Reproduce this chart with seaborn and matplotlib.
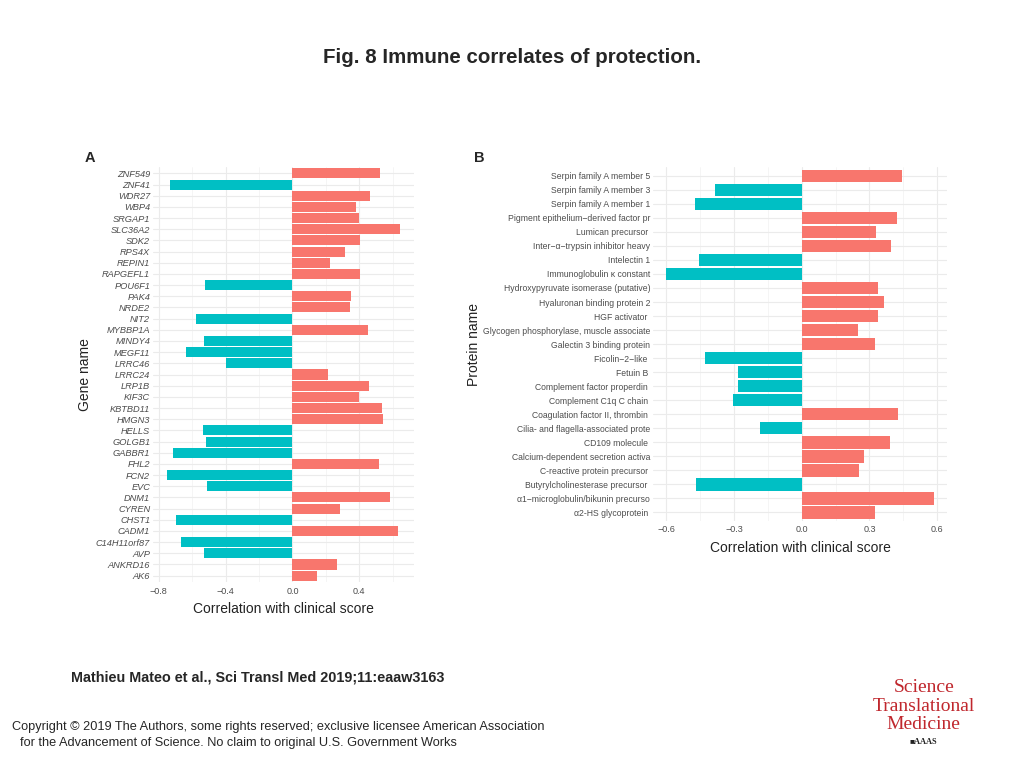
import matplotlib
matplotlib.use("Agg")
import matplotlib.pyplot as plt
import seaborn as sns
import numpy as np
import pandas as pd

# ---------------- data ----------------
genes = ["ZNF549", "ZNF41", "WDR27", "WBP4", "SRGAP1", "SLC36A2", "SDK2", "RPS4X",
         "REPIN1", "RAPGEFL1", "POU6F1", "PAK4", "NRDE2", "NIT2", "MYBBP1A", "MINDY4",
         "MEGF11", "LRRC46", "LRRC24", "LRP1B", "KIF3C", "KBTBD11", "HMGN3", "HELLS",
         "GOLGB1", "GABBR1", "FHL2", "FCN2", "EVC", "DNM1", "CYREN", "CHST1", "CADM1",
         "C14H11orf87", "AVP", "ANKRD16", "AK6"]
gene_corr = [0.525, -0.735, 0.463, 0.380, 0.396, 0.647, 0.405, 0.316,
             0.222, 0.402, -0.523, 0.352, 0.347, -0.577, 0.452, -0.527,
             -0.640, -0.400, 0.213, 0.456, 0.400, 0.535, 0.543, -0.538,
             -0.517, -0.713, 0.519, -0.752, -0.511, 0.587, 0.286, -0.700, 0.630,
             -0.666, -0.530, 0.265, 0.145]

proteins = ["Serpin family A member 5", "Serpin family A member 3", "Serpin family A member 1",
            "Pigment epithelium\u2212derived factor pr", "Lumican precursor ",
            "Inter\u2212\u03b1\u2212trypsin inhibitor heavy", "Intelectin 1",
            "Immunoglobulin \u03ba constant", "Hydroxypyruvate isomerase (putative)",
            "Hyaluronan binding protein 2", "HGF activator ",
            "Glycogen phosphorylase, muscle associate", "Galectin 3 binding protein",
            "Ficolin\u22122\u2212like ", "Fetuin B ", "Complement factor properdin ",
            "Complement C1q C chain ", "Coagulation factor II, thrombin ",
            "Cilia- and flagella-associated prote", "CD109 molecule ",
            "Calcium-dependent secretion activa", "C-reactive protein precursor ",
            "Butyrylcholinesterase precursor ", "\u03b11\u2212microglobulin/bikunin precurso",
            "\u03b12-HS glycoprotein "]
protein_corr = [0.443, -0.383, -0.473, 0.421, 0.329,
                0.396, -0.456, -0.600, 0.338,
                0.365, 0.340, 0.250, 0.325,
                -0.427, -0.281, -0.284, -0.304, 0.428,
                -0.186, 0.393, 0.276, 0.256, -0.470, 0.585, 0.325]

gene_ticks = [-0.8, -0.4, 0.0, 0.4]
protein_ticks = [-0.6, -0.3, 0.0, 0.3, 0.6]

POS = "#F8766D"
NEG = "#00BFC4"

sns.set_theme(style="white")
plt.rcParams["font.family"] = ["Liberation Sans", "DejaVu Sans"]

fig = plt.figure(figsize=(10.24, 7.68), dpi=100)
fig.patch.set_facecolor("white")

def panel(ax, names, vals, ticks, xlim, ylabel, italic, label_size):
    df = pd.DataFrame({"name": names, "corr": vals})
    df["sign"] = np.where(df["corr"] >= 0, "pos", "neg")
    sns.barplot(data=df, y="name", x="corr", hue="sign", order=names,
                palette={"pos": POS, "neg": NEG}, dodge=False, width=0.9,
                legend=False, ax=ax, zorder=3, linewidth=0, saturation=1)
    n = len(names)
    ax.set_xlim(*xlim)
    ax.set_ylim(n - 0.4, -0.6)
    ax.set_xticks(ticks)
    ax.set_xticklabels([("\u22120.%s" % str(abs(t)).split(".")[1]) if t < 0 else f"{t:.1f}"
                        for t in ticks])
    minor = [(ticks[i] + ticks[i + 1]) / 2 for i in range(len(ticks) - 1)]
    minor = [ticks[0] - (ticks[1] - ticks[0]) / 2] + minor + [ticks[-1] + (ticks[1] - ticks[0]) / 2]
    minor = [m for m in minor if xlim[0] <= m <= xlim[1]]
    ax.set_xticks(minor, minor=True)
    ax.grid(True, which="major", axis="both", color="#EBEBEB", linewidth=0.8, zorder=0)
    ax.grid(True, which="minor", axis="x", color="#F2F2F2", linewidth=0.5, zorder=0)
    for s in ax.spines.values():
        s.set_visible(False)
    ax.tick_params(axis="both", which="both", length=0, pad=2)
    ax.tick_params(axis="x", labelsize=6.5, labelcolor="#4D4D4D", pad=3)
    ax.tick_params(axis="y", labelsize=label_size, labelcolor="#4D4D4D")
    if italic:
        for t in ax.get_yticklabels():
            t.set_fontstyle("italic")
    ax.set_xlabel("Correlation with clinical score", fontsize=10, color="#222222", labelpad=5)
    ax.set_ylabel(ylabel, fontsize=10, color="#222222")
    ax.set_facecolor("white")

axA = fig.add_axes([0.1494, 0.2417, 0.2549, 0.5413])
panel(axA, genes, gene_corr, gene_ticks, (-0.835, 0.728), "Gene name", True, 6.7)
axA.yaxis.set_label_coords(-0.235, 0.5)

axB = fig.add_axes([0.6377, 0.322, 0.2871, 0.460])
panel(axB, proteins, protein_corr, protein_ticks, (-0.659, 0.644), "Protein name", False, 6.2)
axB.yaxis.set_label_coords(-0.585, 0.5)

fig.text(0.088, 0.794, "A", fontsize=10.5, fontweight="bold", ha="center", va="center")
fig.text(0.468, 0.794, "B", fontsize=10.5, fontweight="bold", ha="center", va="center")

fig.text(0.5, 0.925, "Fig. 8 Immune correlates of protection.", fontsize=14.8,
         fontweight="bold", ha="center", va="center")
fig.text(0.069, 0.118, "Mathieu Mateo et al., Sci Transl Med 2019;11:eaaw3163",
         fontsize=10.4, fontweight="bold", ha="left", va="center")
fig.text(0.012, 0.053, "Copyright \u00a9 2019 The Authors, some rights reserved; exclusive licensee American Association",
         fontsize=9.2, ha="left", va="center")
fig.text(0.020, 0.033, "for the Advancement of Science. No claim to original U.S. Government Works",
         fontsize=9.2, ha="left", va="center")

red = "#C0272D"
fig.text(0.902, 0.105, "Science", fontsize=14, color=red, family="Liberation Serif",
         ha="center", va="center")
fig.text(0.902, 0.080, "Translational", fontsize=14, color=red, family="Liberation Serif",
         ha="center", va="center")
fig.text(0.902, 0.056, "Medicine", fontsize=14, color=red, family="Liberation Serif",
         ha="center", va="center")
fig.text(0.902, 0.034, "\u25a0AAAS", fontsize=6, color="#222222", family="Liberation Serif",
         fontweight="bold", ha="center", va="center")

fig.savefig("out.png", dpi=100, facecolor="white")
